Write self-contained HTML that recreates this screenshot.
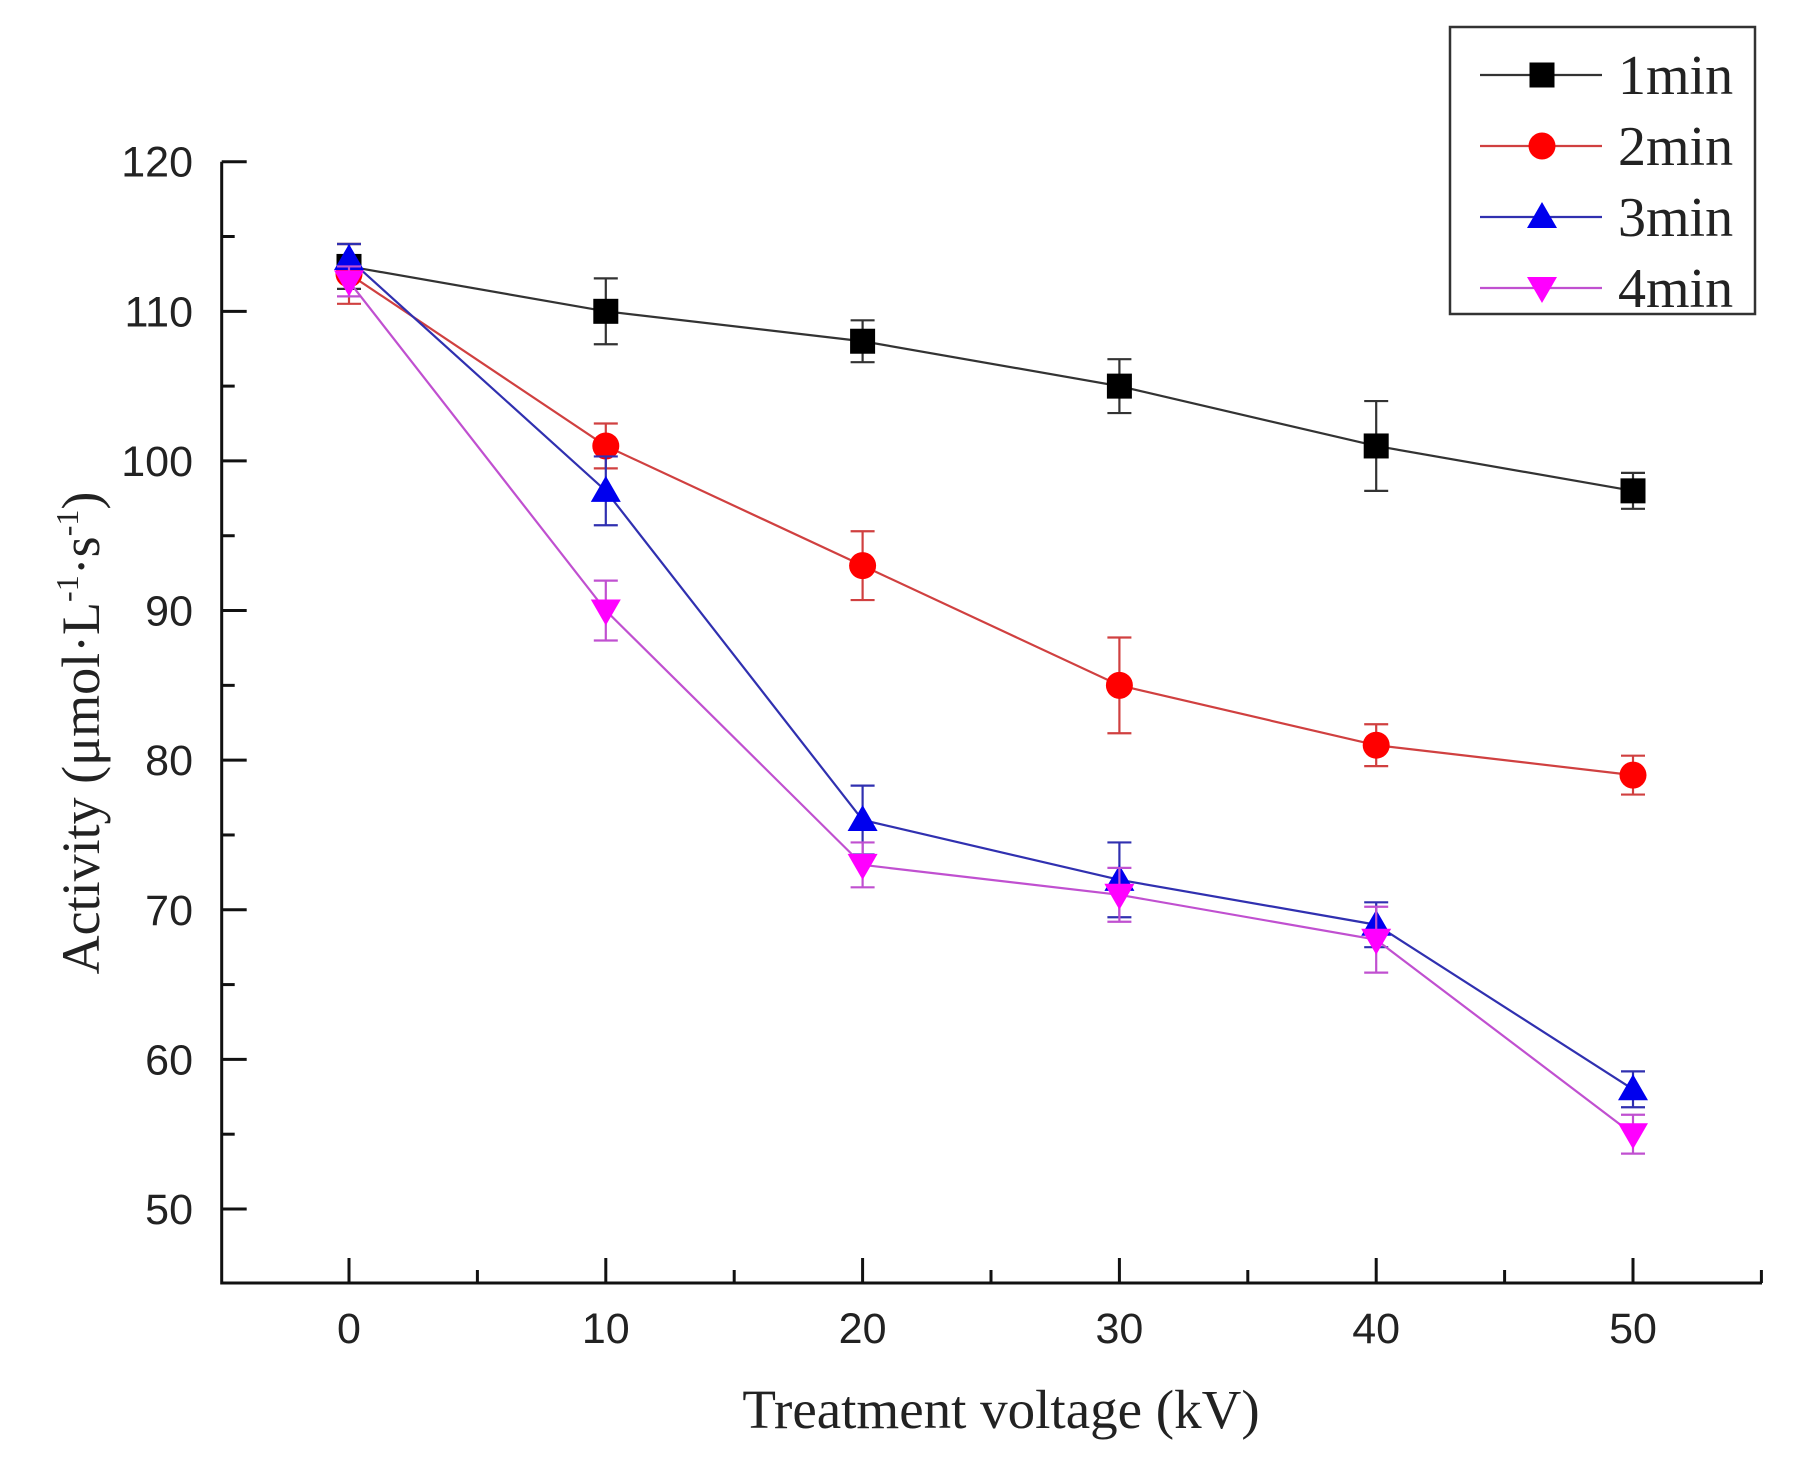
<!DOCTYPE html>
<html><head><meta charset="utf-8"><style>
html,body{margin:0;padding:0;background:#fff;}
svg{display:block;}
.tick{font-family:"Liberation Sans",Arial,sans-serif;font-size:43px;fill:#222;}
.ser{font-family:"Liberation Serif","Times New Roman",serif;fill:#222;}
</style></head><body>
<svg id="chart" width="1809" height="1467" viewBox="0 0 1809 1467" xmlns="http://www.w3.org/2000/svg">
<g id="axes"></g>
<g id="series"></g>
<text class="ser" x="1001" y="1428" font-size="55" text-anchor="middle">Treatment voltage (kV)</text>
<text class="ser" transform="translate(99,733) rotate(-90)" font-size="54" text-anchor="middle">Activity (μmol·L<tspan font-size="32" dy="-21">-1</tspan><tspan dy="21">·s</tspan><tspan font-size="32" dy="-21">-1</tspan><tspan dy="21">)</tspan></text>
<g id="legend">
<rect x="1450" y="27" width="305" height="287" fill="#fff" stroke="#333" stroke-width="2.5"/>
</g>
</svg>
<script>
const categories = [0, 10, 20, 30, 40, 50];
const s1 = [113, 110, 108, 105, 101, 98];
const s2 = [112.5, 101, 93, 85, 81, 79];
const s3 = [113.5, 98, 76, 72, 69, 58];
const s4 = [112, 90, 73, 71, 68, 55];
const e1 = [1.5, 2.2, 1.4, 1.8, 3.0, 1.2];
const e2 = [2.0, 1.5, 2.3, 3.2, 1.4, 1.3];
const e3 = [1.0, 2.3, 2.3, 2.5, 1.5, 1.2];
const e4 = [1.0, 2.0, 1.5, 1.8, 2.2, 1.3];
const seriesNames = ["1min", "2min", "3min", "4min"];
const xTicks = [0, 10, 20, 30, 40, 50];
const yTicks = [50, 60, 70, 80, 90, 100, 110, 120];

const NS = "http://www.w3.org/2000/svg";
const X0 = 349, X50 = 1633, Y50 = 1209, Y120 = 161.7;
const LEFT = 221.7, RIGHT = 1762, BOTTOM = 1283;
function xs(v){ return X0 + (v - 0) * (X50 - X0) / 50; }
function ys(v){ return Y50 + (v - 50) * (Y120 - Y50) / 70; }
function mk(tag, attrs, parent){ const e = document.createElementNS(NS, tag); for (const k in attrs) e.setAttribute(k, attrs[k]); parent.appendChild(e); return e; }

const axes = document.getElementById('axes');
let a = mk('line', {x1:LEFT, y1:BOTTOM, x2:RIGHT, y2:BOTTOM, stroke:'#111', 'stroke-width':3}, axes);


a = mk('line', {x1:LEFT, y1:BOTTOM+1.5, x2:LEFT, y2:Y120, stroke:'#111', 'stroke-width':3}, axes);


xTicks.forEach(v => {
  const t = mk('line', {x1:xs(v), y1:BOTTOM, x2:xs(v), y2:BOTTOM-25, stroke:'#111', 'stroke-width':3}, axes);
  
  
  const m = mk('line', {x1:xs(v+5), y1:BOTTOM, x2:xs(v+5), y2:BOTTOM-13, stroke:'#111', 'stroke-width':3}, axes);
  
  
  const l = mk('text', {x:xs(v), y:1343, 'text-anchor':'middle', class:'tick'}, axes);
  l.textContent = v;
  
  
});
yTicks.forEach(v => {
  const t = mk('line', {x1:LEFT, y1:ys(v), x2:LEFT+25, y2:ys(v), stroke:'#111', 'stroke-width':3}, axes);
  
  
  if (v < 120) {
    const m = mk('line', {x1:LEFT, y1:ys(v+5), x2:LEFT+13, y2:ys(v+5), stroke:'#111', 'stroke-width':3}, axes);
    
    
  }
  const l = mk('text', {x:193, y:ys(v)+15, 'text-anchor':'end', class:'tick'}, axes);
  l.textContent = v;
  
  
});

const colors = ['#000000', '#ff0000', '#0000ee', '#ff00ff'];
const lineColors = ['#333333', '#d04040', '#3030b0', '#c050d0'];
const shapes = ['square', 'circle', 'up', 'down'];
const allVals = [s1, s2, s3, s4];
const allErr = [e1, e2, e3, e4];

function marker(shape, cx, cy, color, parent){
  let e;
  if (shape === 'square') e = mk('rect', {x:cx-12.5, y:cy-12.5, width:25, height:25, fill:color}, parent);
  else if (shape === 'circle') e = mk('circle', {cx:cx, cy:cy, r:13.5, fill:color}, parent);
  else if (shape === 'up') e = mk('polygon', {points:`${cx},${cy-15} ${cx+15},${cy+11} ${cx-15},${cy+11}`, fill:color}, parent);
  else e = mk('polygon', {points:`${cx},${cy+15} ${cx+15},${cy-11} ${cx-15},${cy-11}`, fill:color}, parent);
  return e;
}

const sg = document.getElementById('series');
allVals.forEach((vals, si) => {
  const g = mk('g', {}, sg);
  
  
  const pts = categories.map((c, i) => xs(c) + ',' + ys(vals[i])).join(' ');
  const pl = mk('polyline', {points:pts, fill:'none', stroke:lineColors[si], 'stroke-width':2.2}, g);
  
  
  categories.forEach((c, i) => {
    const x = xs(c), yt = ys(vals[i] + allErr[si][i]), yb = ys(vals[i] - allErr[si][i]);
    const eb = mk('path', {d:`M${x},${yt}V${yb}M${x-12},${yt}H${x+12}M${x-12},${yb}H${x+12}`, stroke:lineColors[si], 'stroke-width':2.2, fill:'none'}, g);
    
    
    const m = marker(shapes[si], x, ys(vals[i]), colors[si], g);
    
    
  });
});

const lg = document.getElementById('legend');
const legY = [75, 146, 217, 288];
seriesNames.forEach((n, si) => {
  const g = mk('g', {}, lg);
  
  
  mk('line', {x1:1480, y1:legY[si], x2:1602, y2:legY[si], stroke:lineColors[si], 'stroke-width':2.2}, g);
  marker(shapes[si], 1542, legY[si], colors[si], g);
  const t = mk('text', {x:1618, y:legY[si]+19, 'font-size':56, class:'ser'}, g);
  t.textContent = n;
});
</script>
</body></html>
